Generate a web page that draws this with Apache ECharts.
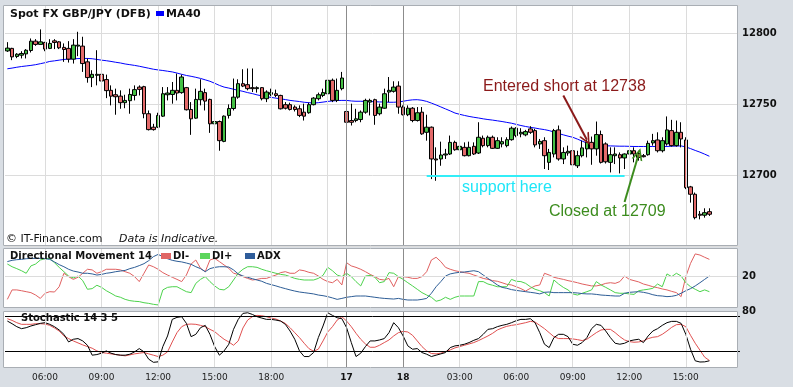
<!DOCTYPE html>
<html><head><meta charset="utf-8">
<script src="https://cdn.jsdelivr.net/npm/echarts@6/dist/echarts.min.js"></script>
<style>html,body{margin:0;padding:0;background:#d9dee4;}#c{width:793px;height:387px;}</style>
</head><body><div id="c"></div>
<script>
// ---- data (15-minute candles) ----
const open = [12787.6,12789.4,12783.7,12784.6,12785.5,12787.9,12794.5,12792.2,12793.6,12789.4,
12794.7,12794.0,12790.1,12789.4,12781.8,12791.0,12791.0,12779.9,12768.8,12770.4,
12771.1,12767.4,12759.8,12756.7,12755.7,12751.1,12752.5,12756.2,12762.1,12762.4,
12743.3,12733.8,12733.8,12741.6,12756.7,12756.9,12759.8,12758.2,12761.7,12746.3,
12740.2,12753.2,12758.2,12753.4,12736.2,12737.8,12723.8,12742.1,12747.0,12755.0,
12764.5,12763.8,12761.7,12761.0,12761.7,12753.9,12757.0,12757.4,12756.2,12749.7,
12749.7,12748.0,12746.8,12744.4,12744.0,12749.7,12753.9,12756.2,12757.4,12766.9,
12752.7,12761.0,12744.9,12738.5,12738.5,12739.2,12744.4,12751.5,12753.2,12743.3,
12747.2,12758.6,12759.1,12762.8,12748.0,12742.6,12747.2,12738.5,12744.4,12730.2,
12733.8,12711.4,12711.4,12714.2,12714.9,12723.1,12717.9,12719.6,12713.7,12720.3,
12715.6,12726.0,12720.8,12726.7,12718.9,12722.0,12720.8,12725.0,12727.9,12729.1,
12728.4,12732.6,12731.4,12722.0,12724.3,12709.0,12714.9,12731.9,12711.4,12715.6,
12717.2,12706.6,12713.7,12718.5,12723.1,12718.5,12728.6,12722.0,12709.0,12713.7,
12714.4,12712.1,12714.9,12717.2,12715.3,12713.7,12714.4,12722.7,12724.8,12717.2,
12722.0,12731.4,12720.8,12730.2,12724.8,12691.7,12686.5,12672.4,12671.7,12674.2];
const close = [12789.6,12783.4,12785.3,12785.8,12788.1,12794.5,12792.2,12794.0,12788.9,12792.9,
12793.6,12789.8,12788.6,12781.8,12791.7,12791.7,12778.7,12768.8,12771.1,12771.1,
12766.4,12759.6,12755.7,12755.3,12751.1,12752.7,12756.9,12760.3,12760.5,12743.3,
12732.1,12732.1,12742.1,12757.4,12757.9,12759.8,12757.9,12769.2,12746.1,12739.7,
12753.4,12759.1,12752.2,12736.2,12737.8,12724.3,12741.6,12747.0,12755.0,12764.5,
12762.8,12761.0,12761.0,12761.7,12753.9,12758.6,12758.2,12756.2,12746.8,12747.2,
12746.3,12746.3,12742.1,12741.6,12749.7,12754.3,12756.7,12758.2,12766.9,12752.7,
12759.8,12768.5,12737.3,12737.3,12739.7,12744.4,12752.7,12752.7,12742.1,12748.0,
12757.4,12759.8,12762.1,12748.0,12742.6,12747.2,12738.5,12744.0,12729.1,12733.8,
12711.4,12710.7,12714.2,12714.9,12723.1,12717.9,12720.3,12713.7,12719.6,12714.9,
12726.7,12720.8,12726.7,12718.9,12724.3,12723.6,12725.0,12733.1,12733.1,12730.2,
12730.7,12730.2,12721.3,12723.8,12713.7,12716.0,12731.4,12711.4,12716.0,12716.8,
12707.3,12713.7,12719.2,12723.1,12718.5,12728.6,12709.0,12709.4,12714.4,12714.9,
12712.1,12714.9,12717.2,12714.9,12712.5,12713.0,12722.4,12724.3,12717.2,12724.3,
12731.9,12720.8,12730.2,12725.5,12691.2,12686.5,12670.0,12671.7,12673.5,12672.4];
const low = [12786.9,12781.1,12782.5,12782.3,12782.3,12786.5,12791.2,12792.2,12787.4,12788.9,
12788.9,12788.9,12779.9,12779.4,12778.7,12783.9,12772.8,12765.2,12762.1,12763.3,
12756.2,12754.3,12749.2,12742.6,12746.8,12747.2,12743.3,12752.7,12756.2,12740.1,
12731.5,12731.4,12733.2,12741.0,12752.7,12750.4,12752.7,12757.4,12745.6,12728.4,
12739.7,12749.2,12745.6,12729.8,12729.8,12717.2,12723.2,12739.9,12745.6,12753.9,
12762.1,12759.8,12758.6,12758.2,12752.7,12751.5,12755.7,12755.0,12746.3,12746.3,
12745.6,12744.9,12740.9,12738.5,12743.3,12749.2,12752.7,12755.0,12756.7,12751.5,
12751.5,12759.8,12733.8,12735.0,12737.3,12737.3,12743.3,12742.1,12735.5,12742.1,
12746.8,12751.5,12758.2,12743.3,12742.1,12741.6,12737.3,12737.8,12728.4,12724.3,
12697.2,12696.0,12706.6,12711.4,12714.2,12717.2,12715.6,12713.2,12713.2,12714.2,
12714.9,12719.6,12719.6,12718.5,12718.5,12719.6,12719.6,12724.3,12726.7,12726.7,
12727.4,12729.1,12719.6,12718.5,12704.3,12703.6,12712.5,12710.2,12707.8,12713.7,
12701.2,12705.0,12712.5,12712.5,12707.3,12713.7,12708.2,12708.2,12701.9,12707.8,
12701.2,12704.3,12705.4,12709.0,12710.2,12712.5,12713.7,12720.8,12716.0,12716.0,
12720.8,12720.1,12720.1,12719.6,12690.1,12680.6,12668.8,12668.8,12670.0,12671.2];
const high = [12793.8,12789.8,12786.0,12787.4,12788.9,12796.4,12795.9,12802.8,12794.0,12795.9,
12795.9,12794.5,12792.9,12794.5,12795.9,12801.1,12797.6,12782.3,12774.0,12788.1,
12775.2,12770.9,12763.3,12761.0,12759.8,12756.7,12761.0,12763.3,12763.3,12763.0,
12745.6,12736.2,12744.0,12762.1,12762.1,12765.7,12771.6,12770.9,12762.2,12751.5,
12761.0,12767.6,12761.0,12753.9,12752.7,12738.5,12742.1,12749.9,12768.1,12767.6,
12774.7,12775.2,12775.2,12762.6,12762.1,12759.8,12761.0,12760.3,12756.7,12751.5,
12751.1,12749.2,12749.2,12750.4,12751.1,12755.0,12758.2,12761.0,12769.2,12768.1,
12768.1,12772.8,12749.2,12750.4,12746.8,12745.6,12753.9,12753.9,12753.9,12750.4,
12761.0,12769.2,12766.2,12766.2,12749.2,12749.2,12748.0,12748.0,12748.0,12742.6,
12734.3,12719.6,12723.6,12718.5,12727.9,12724.3,12722.0,12723.1,12723.6,12723.1,
12737.3,12727.9,12727.9,12727.9,12726.7,12726.7,12726.7,12734.3,12733.8,12733.1,
12731.9,12734.5,12732.6,12725.5,12726.7,12718.5,12732.6,12735.0,12719.6,12720.8,
12717.7,12717.2,12724.3,12724.8,12727.2,12737.8,12731.4,12723.1,12719.6,12719.6,
12716.0,12715.3,12720.1,12719.6,12717.2,12714.9,12724.3,12729.1,12730.2,12726.7,
12741.4,12739.0,12738.5,12737.3,12726.7,12692.4,12687.7,12674.7,12676.6,12676.6];
const ma40 = [12775.0,12775.5,12776.1,12776.6,12777.0,12777.4,12777.9,12778.6,12779.3,12780.2,
12780.6,12781.1,12781.6,12781.8,12782.0,12782.2,12782.3,12782.3,12782.1,12781.6,
12781.1,12780.7,12780.2,12779.6,12779.1,12778.4,12777.9,12777.4,12776.8,12776.1,
12775.4,12774.7,12774.2,12773.8,12773.3,12772.8,12772.0,12771.1,12770.3,12769.7,
12769.0,12768.2,12767.2,12766.2,12764.8,12763.3,12762.1,12761.4,12760.6,12759.8,
12759.1,12758.2,12757.5,12756.6,12755.9,12755.3,12754.8,12754.3,12753.8,12753.3,
12752.7,12752.3,12751.9,12751.4,12751.1,12750.8,12751.1,12751.5,12752.0,12752.3,
12752.6,12752.7,12752.7,12752.3,12752.1,12752.1,12752.0,12751.9,12751.8,12751.6,
12751.6,12751.4,12751.4,12751.6,12752.1,12752.7,12753.1,12753.2,12752.8,12752.0,
12750.8,12749.5,12748.1,12746.7,12745.3,12743.8,12742.9,12742.1,12741.4,12740.8,
12740.3,12739.7,12739.2,12738.8,12738.3,12737.8,12737.2,12736.6,12735.8,12735.0,
12734.3,12733.7,12733.2,12732.6,12732.1,12731.4,12730.4,12729.3,12728.4,12727.5,
12726.7,12725.4,12724.0,12722.6,12721.5,12721.0,12720.8,12720.7,12720.6,12720.5,
12720.4,12720.4,12720.3,12720.2,12720.2,12720.2,12720.2,12720.2,12720.2,12720.2,
12720.2,12720.4,12720.5,12720.6,12719.9,12718.7,12717.4,12716.2,12714.8,12713.3];
const diMinus = [5.4,11.3,11.3,10.8,10.2,9.6,8.1,6.0,9.2,10.2,
10.0,13.3,21.7,19.6,17.9,19.2,21.7,24.2,23.8,21.7,
22.7,24.2,24.2,24.2,23.8,22.7,21.7,19.6,16.5,21.7,
26.9,25.8,24.2,22.1,20.6,19.2,17.9,16.5,20.6,27.5,
30.0,24.8,22.7,30.0,31.0,29.0,26.9,24.8,21.7,21.0,
19.6,18.5,17.5,17.9,18.5,18.5,19.6,20.6,22.1,22.7,
21.7,21.7,23.8,23.3,22.3,21.7,20.0,17.9,16.5,15.8,
17.9,14.4,28.3,26.3,25.4,24.2,22.7,21.0,19.6,17.9,
17.5,18.5,13.3,19.6,19.6,19.2,18.5,18.5,19.6,22.7,
30.0,31.7,29.0,25.4,24.2,23.3,22.7,22.1,21.7,20.6,
19.6,18.5,17.9,17.1,16.7,15.8,14.8,14.4,13.3,12.1,
10.6,12.3,13.8,14.4,21.7,20.6,19.2,18.5,17.9,17.1,
16.5,15.8,15.0,14.4,13.8,13.8,14.4,15.4,15.8,15.4,
16.5,20.0,17.9,17.1,16.3,15.0,14.2,13.3,12.7,11.9,
11.3,10.4,9.6,7.1,19.6,27.9,33.8,33.1,31.7,30.4];
const diPlus = [27.5,25.8,24.6,23.3,21.7,26.3,27.5,30.0,30.8,31.0,
28.3,25.4,22.7,20.0,18.8,20.0,17.1,11.7,12.1,14.2,
12.9,10.8,9.2,7.5,6.7,5.4,4.6,4.2,4.0,3.3,
2.9,2.3,1.9,11.3,12.9,13.3,13.3,11.7,10.2,9.6,
15.4,17.9,19.6,16.5,13.8,11.7,11.3,13.3,17.5,21.7,
24.2,25.8,25.8,25.4,24.2,23.3,22.5,21.7,21.0,20.6,
19.6,18.5,17.9,17.5,17.5,17.5,18.5,20.4,25.4,23.3,
20.6,19.6,21.7,19.6,16.5,13.8,20.0,20.4,19.2,15.8,
16.5,22.1,21.7,19.6,17.9,15.8,13.8,11.7,9.6,8.1,
6.7,4.2,5.0,6.7,5.4,6.7,7.5,7.5,7.5,7.5,
16.5,16.5,15.0,14.2,13.3,13.3,13.3,17.9,16.7,16.5,
15.4,13.3,11.7,10.8,9.6,7.5,17.5,15.0,12.9,11.3,
8.8,8.1,9.2,10.2,11.3,16.5,14.4,12.9,11.3,9.6,
9.2,9.2,8.8,8.5,10.8,11.3,11.7,12.3,15.0,13.3,
21.3,19.6,21.7,20.0,15.8,13.3,11.7,10.2,11.3,10.2];
const adx = [29.0,29.8,30.2,30.4,30.8,31.0,31.0,31.0,30.8,30.4,
28.8,27.1,25.8,24.2,23.1,22.5,21.7,21.7,21.3,20.6,
21.0,21.7,22.1,22.7,23.1,23.5,24.6,25.4,26.5,27.7,
29.6,32.1,33.5,32.1,30.8,29.8,29.2,28.8,28.1,27.3,
25.8,24.6,22.7,24.6,25.4,25.8,25.8,25.6,23.8,21.3,
20.0,19.2,18.3,17.5,16.7,15.4,14.6,13.8,12.9,12.1,
11.3,10.6,10.0,9.6,9.2,8.8,8.1,7.7,7.1,6.3,
5.4,6.0,6.7,7.1,7.5,7.5,7.5,7.1,6.7,6.3,
6.0,5.8,5.6,6.0,5.4,5.0,5.0,5.0,5.4,6.0,
9.2,13.3,16.5,20.0,21.3,21.9,22.3,22.5,22.9,23.3,
22.7,20.6,18.5,16.5,14.4,12.9,12.3,11.5,11.0,10.6,
10.2,9.8,9.4,8.8,9.8,10.0,9.6,9.6,9.6,9.6,
9.6,9.4,9.0,8.8,8.8,8.5,8.1,7.9,7.7,7.5,
7.5,9.2,9.8,10.0,10.2,9.8,9.2,8.3,7.7,7.5,
7.1,7.3,7.9,9.2,10.8,12.1,13.8,15.8,17.9,20.0];
const stochK = [72.4,67.7,62.5,59.0,60.7,63.7,66.0,68.3,69.5,66.6,
62.5,56.7,49.1,35.7,40.4,41.6,37.5,29.9,12.5,13.6,
16.0,20.0,16.0,13.6,12.5,12.5,14.2,18.3,24.1,18.3,
5.5,0.0,0.8,27.6,46.2,75.3,78.8,80.0,68.3,45.0,
49.1,60.7,64.8,49.1,27.6,12.5,20.0,31.7,57.8,75.3,
85.8,86.9,84.0,80.0,77.6,75.3,75.3,74.1,72.4,66.6,
54.9,40.4,20.0,10.1,10.1,17.1,43.3,63.7,86.9,82.3,
78.2,76.5,60.7,34.6,10.1,16.0,27.6,37.5,37.5,39.2,
41.6,52.0,69.5,60.7,46.2,28.8,22.9,24.1,17.1,14.2,
10.1,12.5,14.8,17.1,25.8,28.8,29.9,31.7,34.6,38.6,
41.6,49.1,57.8,59.0,62.5,64.8,66.6,69.5,73.0,75.3,
75.3,76.5,69.5,52.0,31.7,25.8,43.3,49.1,49.1,45.0,
31.7,29.9,34.6,43.3,59.0,66.6,64.8,54.9,43.3,33.4,
31.7,33.4,37.5,39.2,40.4,34.6,46.2,54.9,59.0,64.8,
69.5,71.8,71.8,68.3,49.1,22.9,2.6,0.5,0.8,2.6];
const stochD = [76.5,73.5,69.5,66.6,66.6,66.6,67.7,67.7,67.1,64.8,
60.2,54.9,46.2,41.6,37.5,34.0,30.5,27.6,24.7,20.0,
17.1,16.0,14.8,13.6,12.5,11.3,13.0,14.8,16.0,17.1,
14.8,12.5,10.1,12.5,18.3,35.7,52.0,62.5,66.6,67.1,
66.6,64.8,62.5,57.8,53.8,46.8,40.4,35.7,29.9,37.5,
60.2,74.1,80.0,82.3,81.7,80.0,77.6,75.9,72.4,68.3,
60.7,52.0,43.3,33.4,24.1,19.4,23.0,37.5,53.2,62.5,
74.1,80.0,72.4,62.5,50.9,40.4,32.2,26.4,26.4,29.9,
34.6,39.2,46.2,52.0,54.3,53.2,47.4,37.5,27.6,20.0,
15.4,14.8,16.0,18.9,21.8,25.3,27.6,29.9,32.2,34.6,
38.1,42.1,46.2,50.9,56.7,60.2,63.1,64.8,66.0,67.7,
69.5,71.8,70.6,64.8,59.0,52.0,45.0,41.6,41.6,41.6,
41.0,39.8,38.1,40.4,46.2,52.0,56.7,57.8,57.8,52.0,
45.0,39.2,36.3,35.2,35.7,37.5,41.6,43.9,45.0,49.1,
54.9,61.3,66.0,66.6,62.5,47.4,33.4,21.2,9.0,3.2];

// axis ticks: candle index -> label
const slotCount = 156;
const tickIndex = [8, 20, 32, 44, 56, 72, 84, 96, 108, 120, 132, 144];
const tickText = ['06:00','09:00','12:00','15:00','18:00','17','18','03:00','06:00','09:00','12:00','15:00'];
const dayLabels = ['17', '18'];
const unlabeledGridIndex = [68];
const dayBreakIndex = [72, 84];
const priceTicks = [12700, 12750, 12800];

// annotations (data coordinates: [candle index, price])
const lastPrice = 12672.4;
const supportLevel = 12699.5;
const supportRange = [89, 131];
const entryArrow = [[118, 12756.2], [123, 12725.0]];
const exitArrow = [[131, 12681.1], [134, 12714.9]];

// ---- chart ----
const F = 'DejaVu Sans';
const A = 'Liberation Sans';
const categories = Array.from({length: slotCount}, (_, i) => String(i));
const candles = open.map((o, i) => [o, close[i], low[i], high[i]]);
const vLines = tickIndex.concat(unlabeledGridIndex).map(i => ({
  xAxis: i,
  lineStyle: {color: dayBreakIndex.includes(i) ? '#8c8c8c' : '#dcdcdc', width: 1, type: 'solid'}
}));
function gridLines(g, extra) {
  return {type: 'line', xAxisIndex: g, yAxisIndex: g, data: [], z: 1, silent: true,
    markLine: {silent: true, symbol: ['none', 'none'], animation: false, label: {show: false},
      data: vLines.concat(extra || [])}};
}
const chevron = 'path://M0,10 L5,0 L10,10 L8.4,10 L5,3.2 L1.6,10 Z';
const gl = {left: 5, width: 735};
const grids = [
  Object.assign({top: 5, height: 241}, gl),
  Object.assign({top: 248, height: 60}, gl),
  Object.assign({top: 311, height: 57}, gl)
];
function xAx(g, labels) {
  return {type: 'category', gridIndex: g, data: categories, boundaryGap: true,
    axisLine: {show: false}, axisTick: {show: false}, splitLine: {show: false},
    axisLabel: labels ? {
      interval: (idx) => tickIndex.includes(idx),
      formatter: (v, idx) => { const t = tickText[tickIndex.indexOf(idx)]; return dayLabels.includes(t) ? '{b|' + t + '}' : t; },
      fontFamily: F, fontSize: 9, color: '#222', margin: 5,
      rich: {b: {fontFamily: F, fontSize: 9, fontWeight: 'bold', color: '#111'}}
    } : {show: false}};
}
const yLab = {fontFamily: F, fontSize: 10, fontWeight: 'bold', color: '#111', margin: 2};
const panelRects = [[3,5,735,241],[3,248,735,60],[3,311,735,57]];
const graphics = [];
panelRects.forEach(r => {
  graphics.push({type: 'rect', z: -10, shape: {x: r[0], y: r[1], width: r[2], height: r[3]}, style: {fill: '#fff'}});
  graphics.push({type: 'rect', z: 50, shape: {x: r[0]+0.5, y: r[1]+0.5, width: r[2]-1, height: r[3]-1}, style: {fill: 'none', stroke: '#a9aeb4', lineWidth: 1}});
});
function txt(s, x, y, font, fill) {
  return {type: 'text', z: 60, style: {text: s, x: x, y: y, font: font, fill: fill, textAlign: 'left', textVerticalAlign: 'middle', align: 'left', verticalAlign: 'middle'}};
}
function box(x, y, w, h, c) { return {type: 'rect', z: 60, shape: {x: x, y: y, width: w, height: h}, style: {fill: c}}; }
graphics.push(txt('Spot FX GBP/JPY (DFB)', 10, 14, 'bold 11px ' + F, '#111'));
graphics.push(box(156, 11, 8, 5, '#0000ff'));
graphics.push(txt('MA40', 166, 14, 'bold 11px ' + F, '#111'));
graphics.push(txt('\u00a9 IT-Finance.com', 6, 239, '11px ' + F, '#111'));
graphics.push(txt('Data is Indicative.', 119, 239, 'italic 11px ' + F, '#111'));
graphics.push(txt('Directional Movement 14', 10, 256, 'bold 10px ' + F, '#111'));
graphics.push(box(161, 253, 10, 6, '#e06666'));
graphics.push(txt('DI-', 173, 256, 'bold 10px ' + F, '#111'));
graphics.push(box(200, 253, 10, 6, '#5cd65c'));
graphics.push(txt('DI+', 212, 256, 'bold 10px ' + F, '#111'));
graphics.push(box(245, 253, 10, 6, '#2e5c9a'));
graphics.push(txt('ADX', 257, 256, 'bold 10px ' + F, '#111'));
graphics.push(txt('Stochastic 14 3 5', 21, 318, 'bold 10px ' + F, '#111'));
graphics.push(txt('Entered short at 12738', 483, 87, '16px ' + A, '#8b1a1a'));
graphics.push(txt('support here', 462, 188, '16px ' + A, '#1ee6f8'));
graphics.push(txt('Closed at 12709', 549, 212, '16px ' + A, '#3c8c1e'));

const option = {
  backgroundColor: '#d9dee4',
  animation: false,
  grid: grids,
  xAxis: [xAx(0, false), xAx(1, false), xAx(2, true)],
  yAxis: [
    {type: 'value', gridIndex: 0, position: 'right', min: 12650, max: 12820, interval: 50,
     axisLine: {show: false}, axisTick: {show: false},
     axisLabel: Object.assign({formatter: v => priceTicks.includes(v) ? String(v) : ''}, yLab),
     splitLine: {show: true, lineStyle: {color: '#dcdcdc', width: 1}}},
    {type: 'value', gridIndex: 1, position: 'right', min: 0, max: 37.5, interval: 10,
     axisLine: {show: false}, axisTick: {show: false},
     axisLabel: Object.assign({formatter: v => v === 20 ? '20' : ''}, yLab),
     splitLine: {show: false}},
    {type: 'value', gridIndex: 2, position: 'right', min: -10, max: 90, interval: 10,
     axisLine: {show: false}, axisTick: {show: false},
     axisLabel: Object.assign({formatter: v => v === 80 ? '80' : '', verticalAlign: 'bottom'}, yLab),
     splitLine: {show: false}}
  ],
  graphic: {elements: graphics},
  series: [
    gridLines(0),
    gridLines(1, [{yAxis: 20, lineStyle: {color: '#dcdcdc', width: 1, type: 'solid'}}]),
    gridLines(2, [{yAxis: 80, lineStyle: {color: '#000', width: 1, type: 'solid'}},
                  {yAxis: 20, lineStyle: {color: '#000', width: 1, type: 'solid'}}]),
    {name: 'MA40', type: 'line', xAxisIndex: 0, yAxisIndex: 0, data: ma40, showSymbol: false, symbol: 'none',
     lineStyle: {color: '#0000ff', width: 1}, z: 2, silent: true},
    {name: 'GBP/JPY', type: 'candlestick', xAxisIndex: 0, yAxisIndex: 0, data: candles, barWidth: 4, z: 3,
     itemStyle: {color: '#45c045', color0: '#e36a6a', borderColor: '#000', borderColor0: '#000', borderColorDoji: '#000', borderWidth: 1},
     markLine: {silent: true, symbol: ['none', 'none'], animation: false,
       data: [{yAxis: lastPrice, lineStyle: {opacity: 0},
         label: {show: true, position: 'end', distance: 1, formatter: lastPrice.toFixed(1),
           fontFamily: F, fontSize: 11, color: '#111', backgroundColor: '#ffcc00',
           borderColor: '#333', borderWidth: 1, padding: [2, 2, 1, 2]}}]}},
    {type: 'line', xAxisIndex: 0, yAxisIndex: 0, data: [], z: 5, silent: true,
     markLine: {silent: true, animation: false, label: {show: false},
       data: [
         [{coord: [supportRange[0], supportLevel], symbol: 'none', lineStyle: {color: '#33eef8', width: 2, type: 'solid'}},
          {coord: [supportRange[1], supportLevel], symbol: 'none'}],
         [{coord: entryArrow[0], symbol: 'none', lineStyle: {color: '#8b1a1a', width: 2, type: 'solid'}},
          {coord: entryArrow[1], symbol: chevron, symbolSize: [11, 12]}],
         [{coord: exitArrow[0], symbol: 'none', lineStyle: {color: '#3c8c1e', width: 2, type: 'solid'}},
          {coord: exitArrow[1], symbol: chevron, symbolSize: [11, 12]}]
       ]}},
    {name: 'DI-', type: 'line', xAxisIndex: 1, yAxisIndex: 1, data: diMinus, symbol: 'none', lineStyle: {color: '#e06060', width: 1}, z: 3},
    {name: 'DI+', type: 'line', xAxisIndex: 1, yAxisIndex: 1, data: diPlus, symbol: 'none', lineStyle: {color: '#4cd34c', width: 1}, z: 3},
    {name: 'ADX', type: 'line', xAxisIndex: 1, yAxisIndex: 1, data: adx, symbol: 'none', lineStyle: {color: '#2d5d96', width: 1}, z: 3},
    {name: '%D', type: 'line', xAxisIndex: 2, yAxisIndex: 2, data: stochD, symbol: 'none', lineStyle: {color: '#e05050', width: 1}, z: 3},
    {name: '%K', type: 'line', xAxisIndex: 2, yAxisIndex: 2, data: stochK, symbol: 'none', lineStyle: {color: '#000', width: 1}, z: 4}
  ]
};
const chart = echarts.init(document.getElementById('c'), null, {renderer: 'canvas', width: 793, height: 387});
chart.setOption(option);
</script>
</body></html>
